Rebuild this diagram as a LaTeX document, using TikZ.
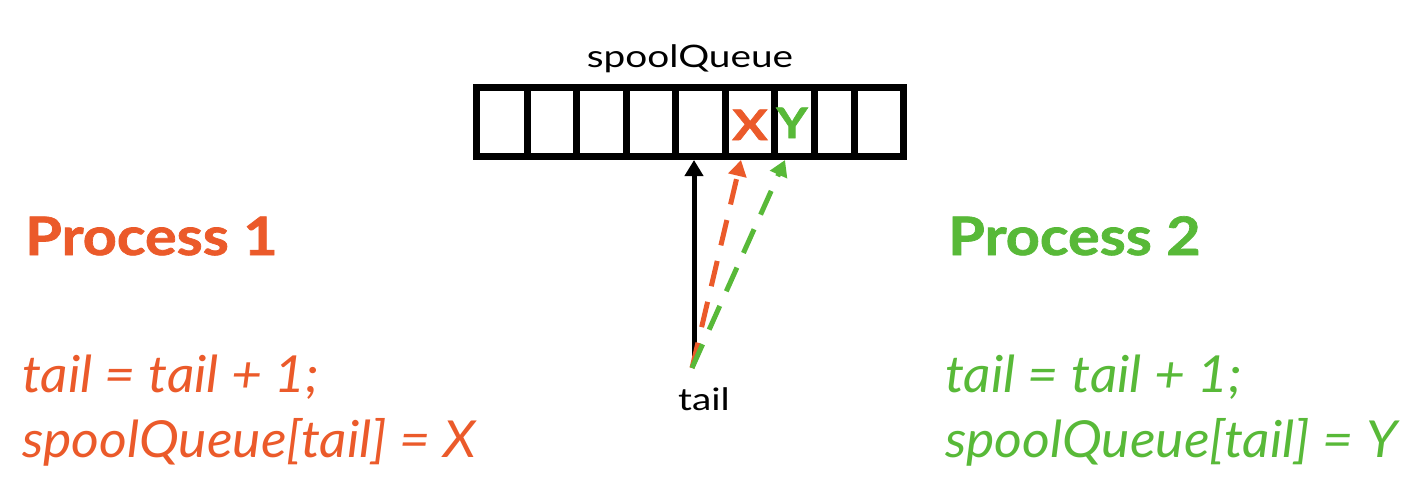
\documentclass[tikz,border=0pt]{standalone}
\usepackage{fontspec}
\setmainfont{Lato}
\newfontfamily\heavyfont{Lato}[BoldFeatures={FakeBold=1.3}]
\usetikzlibrary{arrows.meta}
\definecolor{porange}{RGB}{235,90,42}
\definecolor{pgreen}{RGB}{88,185,56}
\newcommand{\wide}[2]{\scalebox{#1}[1]{#2}}
\begin{document}
\begin{tikzpicture}[x=1pt,y=-1pt,
  lbl/.style={inner sep=0pt, font=\fontsize{31}{36}\selectfont},
  head/.style={inner sep=0pt, anchor=base west, font=\fontsize{53}{60}\heavyfont\bfseries\selectfont},
  code/.style={inner sep=0pt, anchor=base west, font=\fontsize{51}{60}\itshape\selectfont},
  cellmark/.style={inner sep=0pt, anchor=base, font=\fontsize{42}{46}\heavyfont\bfseries\selectfont},
  ptr/.style={line width=5pt, -{Triangle[length=16pt,width=18pt]}},
  dptr/.style={ptr, dash pattern=on 26pt off 16pt}
]
\useasboundingbox (0,0) rectangle (1420,496);
% queue
\node[lbl, anchor=base] (title) at (690,67) {\wide{1.25}{spoolQueue}};
\draw[line width=7pt] (476.5,87) rectangle (903.5,156.5);
\foreach \xx in {527,576,626,675,725,774,814,854}
  \draw[line width=7pt] (\xx,87) -- (\xx,156.5);
\node[cellmark, text=porange] (X) at (750,140) {\wide{1.25}{X}};
\node[cellmark, text=pgreen] (Y) at (792,138) {\wide{1.15}{Y}};
\coordinate (cTail) at (694,160);
\coordinate (cX) at (741,160);
\coordinate (cY) at (785,160);
% tail
\node[lbl, anchor=base] (tail) at (704,410) {\wide{1.25}{tail}};
\coordinate (base) at (692,368);
\draw[ptr] (694,362) -- (cTail);
\draw[dptr, porange] (base) -- (cX);
\draw[dptr, pgreen] (base) -- (cY);
% process 1
\node[head, text=porange] (p1) at (25,255) {\wide{1.12}{Process 1}};
\node[code, text=porange] (p1a) at (22,392) {\wide{1.05}{tail = tail + 1;}};
\node[code, text=porange] (p1b) at (22,457) {\wide{1.05}{spoolQueue[tail] = X}};
% process 2
\node[head, text=pgreen] (p2) at (948,255) {\wide{1.12}{Process 2}};
\node[code, text=pgreen] (p2a) at (945,392) {\wide{1.05}{tail = tail + 1;}};
\node[code, text=pgreen] (p2b) at (945,457) {\wide{1.05}{spoolQueue[tail] = Y}};
\end{tikzpicture}
\end{document}
